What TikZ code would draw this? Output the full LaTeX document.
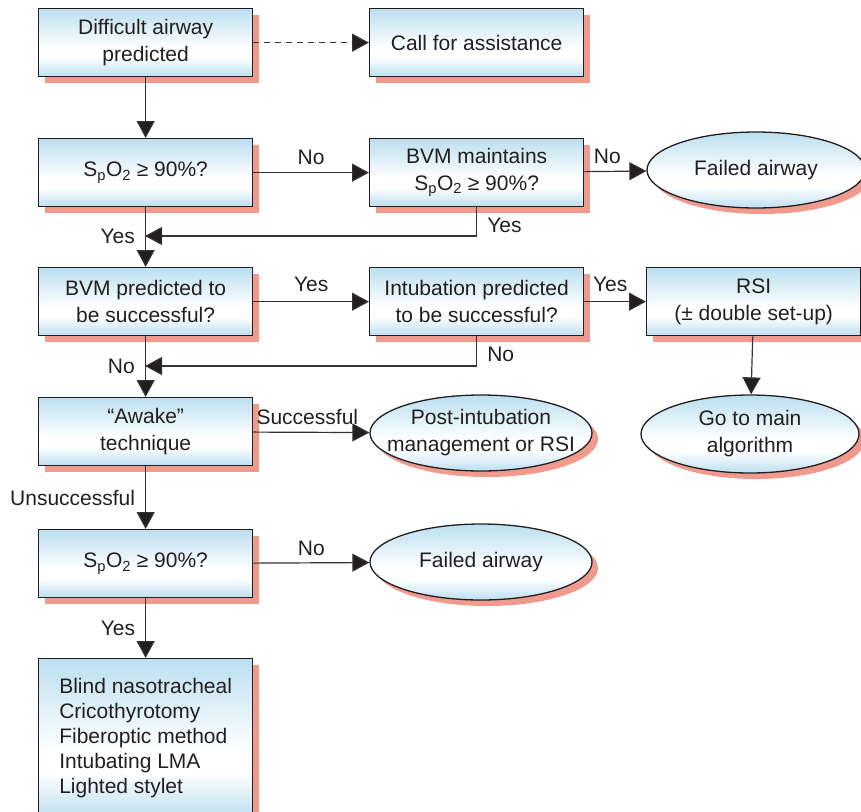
\documentclass[tikz,border=0pt]{standalone}
\usepackage{fontspec}
\setmainfont{Liberation Sans}
\usetikzlibrary{arrows.meta,shapes.geometric,shadows}
\definecolor{boxblue}{HTML}{BCDFF0}
\definecolor{shad}{HTML}{F09A8E}
\definecolor{ink}{HTML}{231F20}
\definecolor{linec}{HTML}{333333}
\pgfdeclareverticalshading{boxshade}{100bp}{color(0bp)=(boxblue); color(25bp)=(boxblue); color(39bp)=(white); color(46bp)=(white); color(75bp)=(boxblue); color(100bp)=(boxblue)}
\tikzset{
 base/.style={draw=ink, line width=1.3pt, shading=boxshade, text=ink,
   font=\fontsize{21}{27}\selectfont,
   general shadow={fill=shad, draw=none, shadow xshift=6pt, shadow yshift=-6pt}},
 box/.style={base, rectangle, minimum width=214pt, minimum height=68pt, align=center, inner sep=0pt, anchor=north west},
 oval/.style={base, ellipse, minimum width=222pt, minimum height=76pt, align=center, inner xsep=-40pt, inner ysep=-20pt},
 conn/.style={draw=linec, line width=1.2pt, -{Triangle[length=17pt,width=18pt,fill=ink]}},
 lab/.style={text=ink, font=\fontsize{21}{25}\selectfont, inner sep=0pt},
}
\newcommand{\spo}{S\textsubscript{p}O\textsubscript{2} ≥ 90\%?}
\begin{document}
\begin{tikzpicture}[x=1pt,y=-1pt]
\useasboundingbox (0,0) rectangle (861,811);
% boxes
\node[box] (dap) at (38,8) {Difficult airway\\predicted};
\node[box] (call) at (369,8) {Call for assistance};
\node[box] (spo1) at (38,138) {\spo};
\node[box] (bvmm) at (369,138) {BVM maintains\\\spo};
\node[oval, minimum width=218pt] (fail1) at (756,170) {Failed airway};
\node[box] (bvmp) at (38,267) {BVM predicted to\\be successful?};
\node[box] (intp) at (369,267) {Intubation predicted\\to be successful?};
\node[box] (rsi) at (646,267) {RSI\\(± double set-up)};
\node[oval, minimum width=218pt, minimum height=78pt] (main) at (750,434) {Go to main\\algorithm};
\node[box] (awake) at (38,397) {“Awake”\\technique};
\node[oval] (post) at (481,433) {Post-intubation\\management or RSI};
\node[box] (spo2) at (38,529) {\spo};
\node[oval] (fail2) at (481,562) {Failed airway};
\node[box, minimum height=158pt, align=left, font=\fontsize{21}{25}\selectfont] (opts) at (38,658)
  {Blind nasotracheal\\Cricothyrotomy\\Fiberoptic method\\Intubating LMA\\Lighted stylet};
% merge points
\coordinate (m1) at (145,236);
\coordinate (m2) at (145,366);
% connectors
\draw[conn] (dap) -- (spo1);
\draw[conn, dash pattern=on 6pt off 5pt] (dap) -- (call);
\draw[conn] (spo1) -- node[lab, above=7pt] {No} (bvmm);
\draw[conn] (bvmm) -- node[lab, above=7pt, xshift=-8pt] {No} (fail1);
\draw[conn] (bvmm.south) |- node[lab, pos=0.32, right=10pt] {Yes} (m1);
\draw[conn] (spo1) -- (bvmp);
\node[lab, left=10pt] at (m1) {Yes};
\draw[conn] (bvmp) -- node[lab, above=9pt] {Yes} (intp);
\draw[conn] (intp) -- node[lab, above=9pt, xshift=-5pt] {Yes} (rsi);
\draw[conn] (intp.south) |- node[lab, pos=0.3, right=10pt] {No} (m2);
\draw[conn] (bvmp) -- (awake);
\node[lab, left=10pt] at (m2) {No};
\draw[conn] (rsi) -- (main);
\draw[conn] (awake) -- node[lab, above=7pt, xshift=-4pt] {Successful} (post);
\draw[conn] (awake) -- node[lab, midway, left=10pt] {Unsuccessful} (spo2);
\draw[conn] (spo2) -- node[lab, above=7pt] {No} (fail2);
\draw[conn] (spo2) -- node[lab, midway, left=10pt] {Yes} (opts);
\end{tikzpicture}
\end{document}
